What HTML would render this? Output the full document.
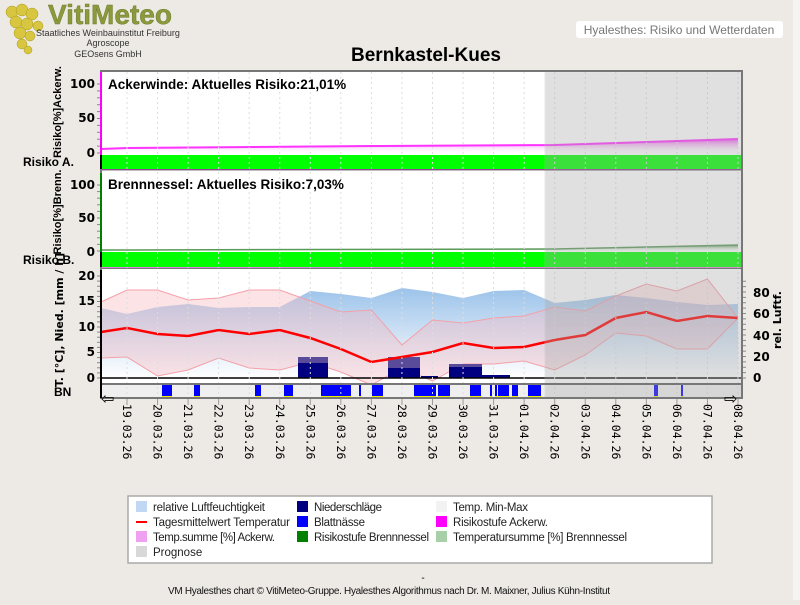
<!DOCTYPE html>
<html><head><meta charset="utf-8"><style>
body{margin:0;background:#edeae5;width:800px;height:600px;overflow:hidden;font-family:"Liberation Sans",sans-serif}
</style></head><body>
<svg id="s" width="800" height="600" xmlns="http://www.w3.org/2000/svg" font-family="Liberation Sans, sans-serif">
<defs>
<linearGradient id="hum" x1="0" y1="0" x2="0" y2="1"><stop offset="0" stop-color="#9cc3ea"/><stop offset="1" stop-color="#ffffff"/></linearGradient>
<linearGradient id="pk" x1="0" y1="0" x2="0" y2="1"><stop offset="0" stop-color="#ee55ee"/><stop offset="1" stop-color="#ffffff" stop-opacity="0"/></linearGradient>
<linearGradient id="gr" x1="0" y1="0" x2="0" y2="1"><stop offset="0" stop-color="#5a9a5a"/><stop offset="1" stop-color="#ffffff" stop-opacity="0"/></linearGradient>
</defs>
<rect x="0" y="0" width="800" height="600" fill="#edeae5"/>
<rect x="793" y="0" width="7" height="600" fill="#f6f4f1"/>
<g fill="#d8c640" stroke="#a89a20" stroke-width="0.5">
<circle cx="12" cy="12" r="6"/><circle cx="22" cy="10" r="6"/><circle cx="32" cy="14" r="6"/><circle cx="16" cy="22" r="6"/><circle cx="27" cy="24" r="6"/><circle cx="38" cy="26" r="5"/><circle cx="20" cy="33" r="6"/><circle cx="30" cy="36" r="5"/><circle cx="22" cy="44" r="5"/><circle cx="28" cy="50" r="4"/>
</g>
<text x="48" y="24" font-size="28" font-weight="bold" fill="#8c9a3c" stroke="#6c7a2c" stroke-width="0.5">VitiMeteo</text>
<text x="108" y="36" font-size="9" text-anchor="middle" fill="#333">Staatliches Weinbauinstitut Freiburg</text>
<text x="108" y="46" font-size="9" text-anchor="middle" fill="#333">Agroscope</text>
<text x="108" y="57" font-size="9" text-anchor="middle" fill="#333">GEOsens GmbH</text>
<rect x="576" y="21" width="207" height="17" rx="3" fill="#fff"/>
<text x="679" y="34" font-size="12" text-anchor="middle" fill="#777">Hyalesthes: Risiko und Wetterdaten</text>
<text x="426" y="61" font-size="19" font-weight="bold" text-anchor="middle" fill="#000">Bernkastel-Kues</text>
<g id="plot"></g>
<rect x="128" y="496" width="584" height="67" fill="#fff" stroke="#aaa" stroke-width="1.5"/>
<g font-size="11.5" fill="#222">
<rect x="136" y="501" width="11" height="11" fill="#c0d8f4"/><text x="153" y="511" textLength="112">relative Luftfeuchtigkeit</text>
<rect x="136" y="521" width="11" height="2" fill="red"/><text x="153" y="526" textLength="137">Tagesmittelwert Temperatur</text>
<rect x="136" y="531" width="11" height="11" fill="#f0a0f0"/><text x="153" y="541" textLength="122">Temp.summe [%] Ackerw.</text>
<rect x="136" y="546" width="11" height="11" fill="#d8d8d8"/><text x="153" y="556">Prognose</text>
<rect x="297" y="501" width="11" height="11" fill="#000080"/><text x="314" y="511" textLength="68">Niederschläge</text>
<rect x="297" y="516" width="11" height="11" fill="#0000ff"/><text x="314" y="526" textLength="51">Blattnässe</text>
<rect x="297" y="531" width="11" height="11" fill="#008000"/><text x="314" y="541" textLength="115">Risikostufe Brennnessel</text>
<rect x="436" y="501" width="11" height="11" fill="#f2f2f2"/><text x="453" y="511" textLength="75">Temp. Min-Max</text>
<rect x="436" y="516" width="11" height="11" fill="#ff00ff"/><text x="453" y="526" textLength="95">Risikostufe Ackerw.</text>
<rect x="436" y="531" width="11" height="11" fill="#a8d0a8"/><text x="453" y="541" textLength="174">Temperatursumme [%] Brennnessel</text>
</g>
<text x="423" y="581" font-size="10" text-anchor="middle">-</text>
<text x="168" y="594" font-size="10" textLength="442" fill="#111">VM Hyalesthes chart © VitiMeteo-Gruppe. Hyalesthes Algorithmus nach Dr. M. Maixner, Julius Kühn-Institut</text>
</svg>
<script>
const NS="http://www.w3.org/2000/svg",g=document.getElementById('plot');
function el(t,a,txt){const e=document.createElementNS(NS,t);for(const k in a)e.setAttribute(k,a[k]);if(txt!=null)e.textContent=txt;g.appendChild(e);return e;}
const X=i=>127+30.55*i, L=101,R=742,P=545;
const pts=(ys)=>ys.map((y,i)=>X(i)+','+y).join(' ');
el('rect',{x:L,y:72,width:R-L,height:312,fill:'#fff'});
el('rect',{x:L,y:385,width:R-L,height:13,fill:'#efefef'});
const hum=[314,307,304,308,307,307,291,294,298,288,292,298,291,290,303,300,295,298,302,305,304];
el('polygon',{points:L+',378 '+L+',308 '+pts(hum)+' '+X(20)+',378',fill:'url(#hum)'});
const tmax=[290,290,300,298,290,290,301,312,310,345,320,323,318,316,307,311,296,284,291,279,318];
const tmin=[357,376,370,358,368,370,362,372,385,368,381,364,364,361,370,355,333,336,349,349,318];
const tavg=[328,334,336,330,334,330,338,349,362,357,352,343,348,347,340,335,318,312,321,316,318];
const up=L+',302 '+pts(tmax), lo=pts(tmin).split(' ').reverse().join(' ')+' '+L+',358';
el('polygon',{points:up+' '+lo,fill:'#f4b8c0',opacity:0.4});
el('polyline',{points:L+',302 '+pts(tmax),fill:'none',stroke:'#f5a0a8','stroke-width':1});
el('polyline',{points:L+',358 '+pts(tmin),fill:'none',stroke:'#f5a0a8','stroke-width':1});
[[298,328,357,363],[388,420,357,368],[421,438,376,376],[449,482,364,367],[482,510,375,375]].forEach(b=>{
el('rect',{x:b[0],y:b[2],width:b[1]-b[0],height:378-b[2],fill:'#5a4a9a'});
el('rect',{x:b[0],y:b[3],width:b[1]-b[0],height:378-b[3],fill:'#000080'});});
el('polyline',{points:L+',332 '+pts(tavg),fill:'none',stroke:'#ff0000','stroke-width':2.5});
el('line',{x1:L,y1:378,x2:R,y2:378,stroke:'#000','stroke-width':1.5});
el('polygon',{points:L+',149 '+X(0)+',148 '+X(8)+',146 '+X(14)+',145 '+X(20)+',139 '+X(20)+',154 '+L+',154',fill:'url(#pk)'});
el('polyline',{points:L+',149 '+X(0)+',148 '+X(8)+',146 '+X(14)+',145 '+X(20)+',139',fill:'none',stroke:'#ff33ff','stroke-width':2});
el('rect',{x:L,y:155,width:R-L,height:14,fill:'#00ff00'});
el('line',{x1:L,y1:169.5,x2:R,y2:169.5,stroke:'#c000c0'});
el('polygon',{points:L+',250 '+X(14)+',249 '+X(20)+',245 '+X(20)+',252 '+L+',252',fill:'url(#gr)'});
el('polyline',{points:L+',250 '+X(14)+',249 '+X(20)+',245',fill:'none',stroke:'#5a9a5a','stroke-width':1.5});
el('rect',{x:L,y:252,width:R-L,height:15,fill:'#00ff00'});
el('line',{x1:L,y1:268,x2:R,y2:268,stroke:'#c000c0'});
[[162,172],[194,200],[255,261],[284,293],[321,351],[359,361],[372,383],[414,436],[438,450],[470,481],[490,492],[495,497],[498,509],[512,518],[528,541],[654,658],[681,683]].forEach(b=>{
el('rect',{x:b[0],y:385,width:b[1]-b[0],height:12,fill:'#0000ff'});el('rect',{x:b[0],y:396,width:b[1]-b[0],height:2,fill:'#eeee00'});});
const D=['19.03','20.03','21.03','22.03','23.03','24.03','25.03','26.03','27.03','28.03','29.03','30.03','31.03','01.04','02.04','03.04','04.04','05.04','06.04','07.04','08.04'];
for(let i=0;i<=20;i++){el('line',{x1:X(i),y1:72,x2:X(i),y2:398,stroke:'#ddd','stroke-dasharray':'2,3'});
el('line',{x1:X(i),y1:399,x2:X(i),y2:405,stroke:'#999'});
el('text',{x:0,y:0,'font-size':11.5,'font-family':'DejaVu Sans Mono, monospace',transform:`translate(${X(i)-4},404) rotate(90)`},D[i]+'.26');}
el('rect',{x:P,y:72,width:R-P,height:326,fill:'#a8a8a8',opacity:0.35,stroke:'#bbb'});
el('rect',{x:L,y:71,width:R-L,height:327,fill:'none',stroke:'#777','stroke-width':2});
el('line',{x1:L,y1:170,x2:R,y2:170,stroke:'#777'});el('line',{x1:L,y1:268.5,x2:R,y2:268.5,stroke:'#777'});
el('line',{x1:L,y1:384,x2:R,y2:384,stroke:'#777','stroke-width':2});
el('line',{x1:L,y1:72,x2:L,y2:155,stroke:'#ff00ff','stroke-width':2});
el('line',{x1:L,y1:173,x2:L,y2:252,stroke:'#008000','stroke-width':2});
el('line',{x1:L,y1:270,x2:L,y2:398,stroke:'#000','stroke-width':2});
el('line',{x1:L,y1:155,x2:L,y2:169,stroke:'#000','stroke-width':2});el('line',{x1:L,y1:252,x2:L,y2:267,stroke:'#000','stroke-width':2});
el('text',{x:101,y:404,'font-size':16},'⇦');el('text',{x:724,y:404,'font-size':16},'⇨');
const bl={'font-size':12,'font-weight':'bold','text-anchor':'end','font-family':'DejaVu Sans, sans-serif'};
[[100,88],[50,122],[0,157]].forEach(a=>el('text',Object.assign({x:95,y:a[1]},bl),a[0]));
[[100,189],[50,222],[0,256]].forEach(a=>el('text',Object.assign({x:95,y:a[1]},bl),a[0]));
[[20,280],[15,305],[10,331],[5,356],[0,382]].forEach(a=>el('text',Object.assign({x:95,y:a[1]},bl),a[0]));
[[80,297],[60,318],[40,340],[20,361],[0,382]].forEach(a=>el('text',Object.assign({x:753,y:a[1]},bl,{'text-anchor':'start'}),a[0]));
for(let v=0;v<=100;v+=10){el('line',{x1:97,y1:153-v*0.69,x2:100,y2:153-v*0.69,stroke:'#888'});el('line',{x1:97,y1:251-v*0.66,x2:100,y2:251-v*0.66,stroke:'#888'});}
for(let v=0;v<=20;v++)el('line',{x1:97,y1:378-v*5.1,x2:100,y2:378-v*5.1,stroke:'#888'});
for(let v=0;v<=90;v+=5)el('line',{x1:743,y1:378-v*1.075,x2:746,y2:378-v*1.075,stroke:'#888'});
const ax={'font-size':11,'font-weight':'bold','text-anchor':'middle'};
el('text',Object.assign({transform:'translate(61,112) rotate(-90)'},ax),'Risiko[%]Ackerw.');
el('text',Object.assign({transform:'translate(61,212) rotate(-90)'},ax),'Risiko[%]Brenn.');
el('text',Object.assign({transform:'translate(63,320) rotate(-90)','font-family':'DejaVu Sans, sans-serif','font-size':12.5},ax),'T. [°C], Nied. [mm / h]');
el('text',Object.assign({transform:'translate(781,320) rotate(-90)','font-family':'DejaVu Sans, sans-serif','font-size':12},ax),'rel. Luftf.');
el('text',{x:23,y:166,'font-size':12,'font-weight':'bold'},'Risiko A.');
el('text',{x:23,y:264,'font-size':12,'font-weight':'bold'},'Risiko B.');
el('text',{x:54,y:396,'font-size':12,'font-weight':'bold'},'BN');
el('text',{x:108,y:89,'font-size':13.5,'font-weight':'bold'},'Ackerwinde:  Aktuelles Risiko:21,01%');
el('text',{x:108,y:189,'font-size':13.5,'font-weight':'bold'},'Brennnessel:  Aktuelles Risiko:7,03%');
</script>
</body></html>
